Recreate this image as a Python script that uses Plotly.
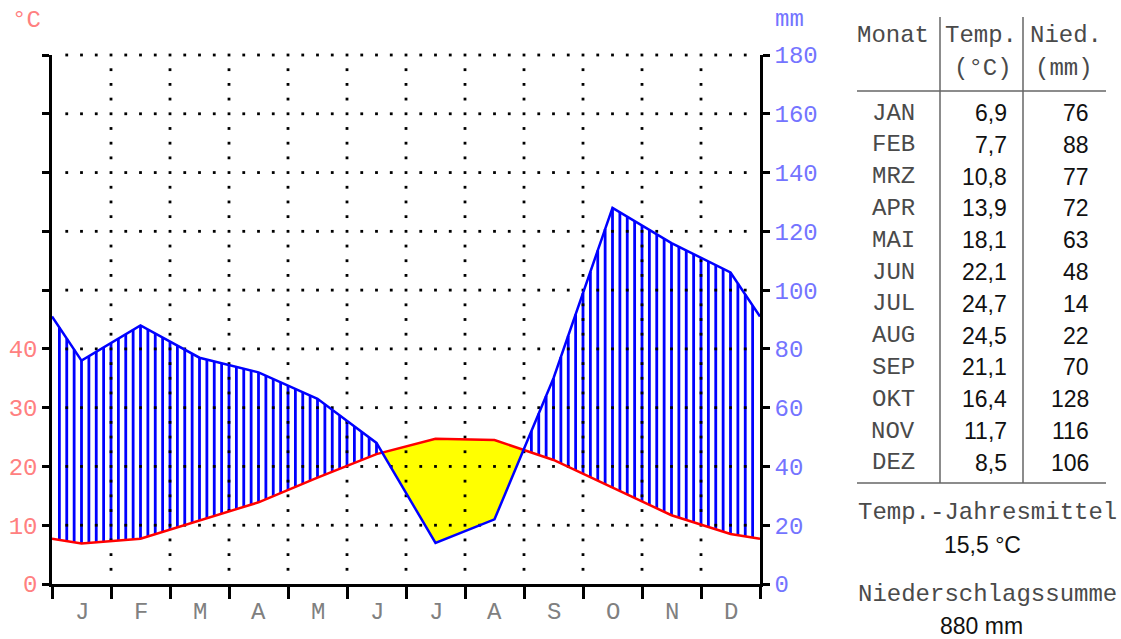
import numpy as np
import plotly.graph_objects as go

# ---------------- data ----------------
month_letters = ["J", "F", "M", "A", "M", "J", "J", "A", "S", "O", "N", "D"]
month_names = ["JAN", "FEB", "MRZ", "APR", "MAI", "JUN", "JUL", "AUG", "SEP", "OKT", "NOV", "DEZ"]
temp = [6.9, 7.7, 10.8, 13.9, 18.1, 22.1, 24.7, 24.5, 21.1, 16.4, 11.7, 8.5]
precip = [76, 88, 77, 72, 63, 48, 14, 22, 70, 128, 116, 106]
temp_tick_vals = [0, 10, 20, 30, 40, 50, 60, 70, 80, 90]
temp_tick_text = ["0", "10", "20", "30", "40", "", "", "", "", ""]
precip_tick_vals = [0, 20, 40, 60, 80, 100, 120, 140, 160, 180]

# ---------------- layout geometry ----------------
W, H = 1121, 639
X0, X1, Y0, Y1 = 52, 760, 584, 55  # plot area in pixels


def px(x):
    return (x - X0) / (X1 - X0)


def py(y):
    return (Y0 - y) / (Y0 - Y1)


MONO = "Courier New, Liberation Mono, monospace"
SANS = "Arial, Liberation Sans, sans-serif"
RED_T = "#ff8080"
BLUE_T = "#7474ff"
MONO_C = "#4a4a4a"

# curves (precip in temperature units: 20 mm = 10 degC), extended to the edges
xs = [0.0] + [i + 0.5 for i in range(12)] + [12.0]
edge_t = (temp[0] + temp[-1]) / 2
edge_p = (precip[0] + precip[-1]) / 2
ts = [edge_t] + temp + [edge_t]
ps = [p / 2 for p in [edge_p] + precip + [edge_p]]

fig = go.Figure()

# dummy trace to activate right axis
fig.add_trace(go.Scatter(x=[c + 0.5 for c in range(12)], y=precip, yaxis="y2", mode="lines",
                         line=dict(width=0), opacity=0, hoverinfo="skip", showlegend=False))

# humid hatching
xh = np.arange(1, 96) * 0.125
th = np.interp(xh, xs, ts)
ph = np.interp(xh, xs, ps)
hx, hy = [], []
for x, t, p in zip(xh, th, ph):
    if p > t:
        hx += [x, x, None]
        hy += [t, p, None]
fig.add_trace(go.Scatter(x=hx, y=hy, mode="lines", line=dict(color="#0000ff", width=2.8),
                         hoverinfo="skip", showlegend=False))

# arid polygons
polys = []
top, bot = None, None
for i in range(len(xs)):
    d = ts[i] - ps[i]
    if i > 0:
        dp = ts[i - 1] - ps[i - 1]
        if (dp > 0) != (d > 0):
            f = dp / (dp - d)
            xc = xs[i - 1] + f * (xs[i] - xs[i - 1])
            yc = ts[i - 1] + f * (ts[i] - ts[i - 1])
            if d > 0:
                top, bot = [(xc, yc)], []
            else:
                top.append((xc, yc))
                polys.append(top + bot[::-1])
                top, bot = None, None
    if d > 0:
        if top is None:
            top, bot = [], []
        top.append((xs[i], ts[i]))
        bot.append((xs[i], ps[i]))
if top:
    polys.append(top + bot[::-1])
for poly in polys:
    fig.add_trace(go.Scatter(x=[q[0] for q in poly] + [poly[0][0]], y=[q[1] for q in poly] + [poly[0][1]],
                             mode="lines", fill="toself", fillcolor="#ffff00", line=dict(width=0),
                             hoverinfo="skip", showlegend=False))

# dotted grid
dx, dy = [], []
for yv in range(10, 91, 10):
    for k in range(1, 48):
        dx.append(k * 0.25)
        dy.append(yv)
for xv in range(1, 12):
    for k in range(1, 36):
        if k % 4 != 0:
            dx.append(xv)
            dy.append(k * 2.5)
fig.add_trace(go.Scatter(x=dx, y=dy, mode="markers", marker=dict(symbol="square", size=2.8, color="black"),
                         cliponaxis=False, hoverinfo="skip", showlegend=False))

# lines
fig.add_trace(go.Scatter(x=xs, y=ts, mode="lines", line=dict(color="#ff0000", width=2.5),
                         showlegend=False, name="Temp."))
fig.add_trace(go.Scatter(x=xs, y=ps, mode="lines", line=dict(color="#0000ff", width=2.5),
                         showlegend=False, name="Nied."))

annotations = []
shapes = []


def text(x, y, s, font=MONO, size=24, color=MONO_C, xanchor="center"):
    annotations.append(dict(x=px(x), y=py(y), xref="paper", yref="paper", text=s, showarrow=False,
                            xanchor=xanchor, yanchor="middle", font=dict(family=font, size=size, color=color)))


def line(xa, ya, xb, yb, color="#666666", width=1.5):
    shapes.append(dict(type="line", xref="paper", yref="paper", x0=px(xa), y0=py(ya), x1=px(xb), y1=py(yb),
                       line=dict(color=color, width=width)))


# axis titles
text(26, 20, "°C", color=RED_T)
text(789, 19, "mm", color=BLUE_T)

# month letters
for i, m in enumerate(month_letters):
    text(X0 + (i + 0.5) * (X1 - X0) / 12, 612, m, color="#808080")

# table
text(893, 35, "Monat")
text(981, 35, "Temp.")
text(983, 68, "(°C)")
text(1066, 35, "Nied.")
text(1064, 68, "(mm)")
line(940, 17, 940, 483)
line(1023, 17, 1023, 483)
line(857, 91, 1106, 91)
line(857, 483, 1106, 483)
for i, (mn, t, p) in enumerate(zip(month_names, temp, precip)):
    yy = 113 + i * 31.8
    text(893, yy, mn)
    text(1009, yy, f"{t:.1f}".replace(".", ","), font=SANS, size=23, color="#111111", xanchor="right")
    text(1091, yy, f"{p}", font=SANS, size=23, color="#111111", xanchor="right")

mean_t = sum(temp) / len(temp)
text(987, 512, "Temp.-Jahresmittel")
text(983, 545, f"{mean_t:.1f} °C".replace(".", ","), font=SANS, size=23, color="#111111")
text(987, 594, "Niederschlagssumme")
text(981, 626, f"{sum(precip)} mm", font=SANS, size=23, color="#111111")

fig.update_layout(
    template="none",
    width=W, height=H,
    margin=dict(l=X0, r=W - X1, t=Y1, b=H - Y0, pad=0),
    paper_bgcolor="white", plot_bgcolor="white",
    showlegend=False,
    xaxis=dict(range=[0, 12], tickvals=list(range(13)), showticklabels=False, ticks="outside",
               ticklen=12, tickwidth=2.5, tickcolor="black", showline=True, linecolor="black",
               linewidth=2.5, showgrid=False, zeroline=False, automargin=False, fixedrange=True),
    yaxis=dict(range=[0, 90], tickvals=temp_tick_vals, ticktext=temp_tick_text, ticks="outside",
               ticklen=7, tickwidth=2.5, tickcolor="black", showline=True, linecolor="black",
               linewidth=2.5, showgrid=False, zeroline=False, automargin=False,
               tickfont=dict(family=MONO, size=24, color=RED_T), fixedrange=True),
    yaxis2=dict(range=[0, 180], overlaying="y", side="right", tickvals=precip_tick_vals, ticks="outside",
                ticklen=7, tickwidth=2.5, tickcolor="black", showline=True, linecolor="black",
                linewidth=2.5, showgrid=False, zeroline=False, automargin=False,
                tickfont=dict(family=MONO, size=24, color=BLUE_T), fixedrange=True),
    annotations=annotations,
    shapes=shapes,
)

fig.write_html("out.html", config={"displayModeBar": False},
               post_script="document.body.style.margin='0';")
